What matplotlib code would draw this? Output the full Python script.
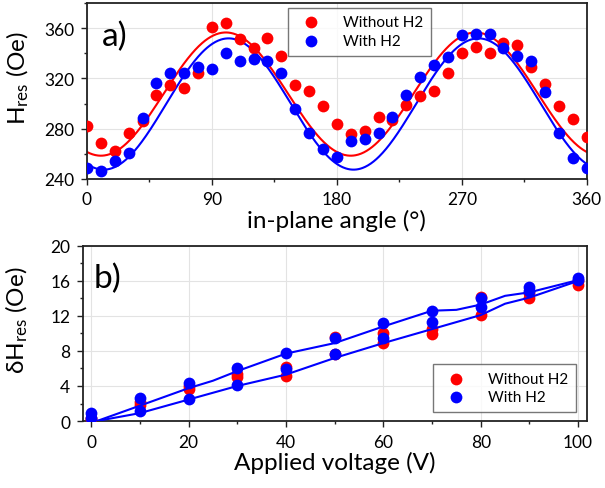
import numpy as np
import matplotlib
matplotlib.use("Agg")
import matplotlib.pyplot as plt
from matplotlib.ticker import MultipleLocator

plt.rcParams['font.family'] = ['Lato', 'DejaVu Sans']
plt.rcParams['mathtext.default'] = 'regular'

# a) resonance field vs in-plane angle
angle = np.arange(0, 361, 10)
hres_without = [282, 268.5, 262.5, 276.5, 286, 307, 314.5, 312, 324.5, 360.5,
                364, 351.5, 344, 352, 337.5, 315, 310, 298, 284, 276,
                278.5, 289, 286.5, 298.5, 306, 310, 324, 340.5, 345, 340,
                348, 346.5, 329, 315.5, 298, 288, 273.5]
hres_with = [248.5, 246.5, 254.5, 260.5, 288.5, 316.5, 324.5, 324.5, 329, 327.5,
             340.5, 333.5, 335, 334, 324.5, 295.5, 276.5, 264, 257.5, 270.5,
             271.5, 276.5, 289, 307, 321, 331, 337, 354.5, 355.5, 355.5,
             344, 338, 333.5, 309.5, 276.5, 257, 248.5]

# cos(2*theta) fit parameters: offset, amplitude, peak angle
fit_without = (307.5, 49.0, 100.0)
fit_with = (299.6, 52.2, 102.0)

# b) linewidth vs applied voltage (two sweeps each)
voltage = [0, 10, 20, 30, 40, 50, 60, 70, 80, 90, 100]
dh_without_up = [0.4, 2.2, 4.0, 5.4, 6.2, 9.6, 10.0, 10.5, 14.2, 14.6, 16.0]
dh_without_dn = [0.2, 1.8, 3.7, 5.0, 5.1, 7.6, 8.9, 9.9, 12.1, 14.1, 15.5]
dh_with_up = [0.9, 2.6, 4.3, 6.0, 7.8, 9.5, 11.2, 12.6, 14.0, 15.3, 16.3]
dh_with_dn = [0.3, 1.1, 2.5, 4.1, 5.9, 7.7, 9.5, 11.3, 13.0, 14.8, 16.1]

guide_up_v = [1.2, 10, 20, 25, 30, 40, 50, 60, 70, 75, 80, 85, 90, 100]
guide_up_dh = [0, 1.75, 3.75, 4.6, 5.7, 7.7, 8.9, 10.8, 12.6, 12.7, 13.3, 14.3, 14.7, 16.1]
guide_dn_v = [1.2, 10, 20, 30, 40, 50, 60, 70, 80, 85, 90, 100]
guide_dn_dh = [0, 0.9, 2.45, 4.0, 5.3, 7.2, 8.9, 10.5, 12.1, 13.4, 14.1, 16.0]

RED = '#ff0000'
BLUE = '#0000ff'
MS = 72
TICK_FS = 12.5
LABEL_FS = 17.5
LEG_FS = 11


def style_axes(ax):
    for sp in ax.spines.values():
        sp.set_linewidth(1.3)
        sp.set_color('#222222')
    ax.tick_params(which='major', direction='out', length=4, width=1, pad=5,
                   labelsize=TICK_FS, color='#222222')
    ax.tick_params(which='minor', direction='out', length=2.5, width=1,
                   color='#222222')
    ax.grid(True, which='major', color='#e3e3e3', linewidth=0.8)
    ax.set_axisbelow(True)


fig = plt.figure(figsize=(6.05, 4.89), dpi=100)

ax1 = fig.add_axes([0.1438, 0.632, 0.826, 0.360])
theta = np.linspace(0, 360, 721)
for (off, amp, ph), c in [(fit_without, RED), (fit_with, BLUE)]:
    ax1.plot(theta, off + amp * np.cos(np.radians(2 * (theta - ph))),
             color=c, lw=1.5, zorder=2)
ax1.scatter(angle, hres_without, s=MS, color=RED, lw=0, label='Without H2', zorder=3)
ax1.scatter(angle, hres_with, s=MS, color=BLUE, lw=0, label='With H2', zorder=3)
ax1.set_xlim(0, 360)
ax1.set_ylim(240, 380)
ax1.xaxis.set_major_locator(MultipleLocator(90))
ax1.xaxis.set_minor_locator(MultipleLocator(45))
ax1.yaxis.set_minor_locator(MultipleLocator(20))
ax1.set_yticks([240, 280, 320, 360])
style_axes(ax1)
ax1.set_xlabel('in-plane angle (°)', fontsize=LABEL_FS, labelpad=1)
ax1.set_ylabel(r'H$_{res}$ (Oe)', fontsize=LABEL_FS)
ax1.yaxis.set_label_coords(-0.112, 0.58)
ax1.text(0.03, 0.81, 'a)', transform=ax1.transAxes, fontsize=24, va='center')
leg1 = ax1.legend(loc='upper left', bbox_to_anchor=(0.402, 0.972), borderaxespad=0,
                  fancybox=False, edgecolor='#555555', fontsize=LEG_FS,
                  handletextpad=1.1, borderpad=0.5, labelspacing=0.3)
leg1.get_frame().set_linewidth(1)

ax2 = fig.add_axes([0.137, 0.137, 0.833, 0.358])
ax2.plot(guide_up_v, guide_up_dh, color=BLUE, lw=1.5, zorder=4)
ax2.plot(guide_dn_v, guide_dn_dh, color=BLUE, lw=1.5, zorder=4)
ax2.scatter(voltage + voltage, dh_without_up + dh_without_dn, s=MS, color=RED,
            lw=0, label='Without H2', zorder=3)
ax2.scatter(voltage + voltage, dh_with_up + dh_with_dn, s=MS, color=BLUE,
            lw=0, label='With H2', zorder=3)
ax2.set_xlim(-1.7, 101.8)
ax2.set_ylim(0, 20)
ax2.xaxis.set_major_locator(MultipleLocator(20))
ax2.xaxis.set_minor_locator(MultipleLocator(10))
ax2.yaxis.set_major_locator(MultipleLocator(4))
ax2.yaxis.set_minor_locator(MultipleLocator(2))
style_axes(ax2)
ax2.set_xlabel('Applied voltage (V)', fontsize=LABEL_FS, labelpad=1)
ax2.set_ylabel(r'δH$_{res}$ (Oe)', fontsize=LABEL_FS)
ax2.yaxis.set_label_coords(-0.105, 0.58)
ax2.text(0.022, 0.82, 'b)', transform=ax2.transAxes, fontsize=24, va='center')
leg2 = ax2.legend(loc='lower right', bbox_to_anchor=(0.978, 0.051), borderaxespad=0,
                  fancybox=False, edgecolor='#555555', fontsize=LEG_FS,
                  handletextpad=1.1, borderpad=0.5, labelspacing=0.3)
leg2.get_frame().set_linewidth(1)

fig.savefig('out.png', dpi=100)
